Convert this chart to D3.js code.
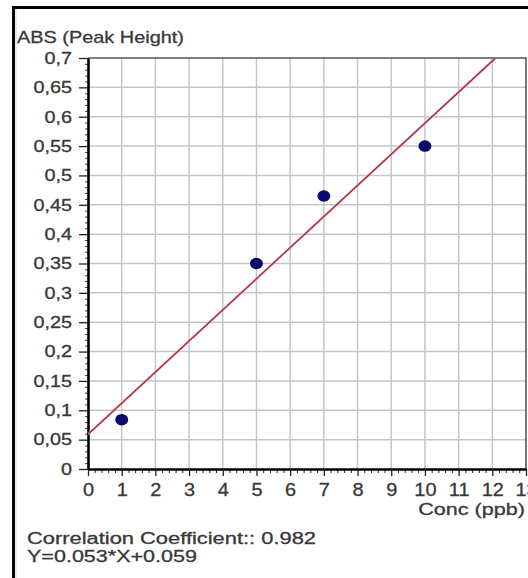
<!DOCTYPE html>
<html>
<head>
<meta charset="utf-8">
<script src="https://cdn.jsdelivr.net/npm/d3@7"></script>
<style>
  html, body { margin: 0; padding: 0; background: #fff; }
  svg { display: block; }
  text { font-family: "Liberation Sans", Arial, sans-serif; fill: #383838; stroke: #383838; stroke-width: 0.3; }
</style>
</head>
<body>
<svg id="chart" width="528" height="578"></svg>
<script>
// Calibration standards: concentration (ppb) and measured absorbance (peak height)
const concentrations = [1, 5, 7, 10];
const absorbances = [0.084, 0.35, 0.465, 0.55];

// Linear fit reported by the instrument
const slope = 0.053;
const intercept = 0.059;
const correlation = 0.982;

// Axis ticks
const xTicks = [0, 1, 2, 3, 4, 5, 6, 7, 8, 9, 10, 11, 12, 13];
const yTicks = [0, 0.05, 0.1, 0.15, 0.2, 0.25, 0.3, 0.35, 0.4, 0.45, 0.5, 0.55, 0.6, 0.65, 0.7];

const yTitle = "ABS (Peak Height)";
const xTitle = "Conc (ppb)";

const svg = d3.select("#chart");
const plotL = 88, plotR = 526, plotT = 58, plotB = 469;

const x = d3.scaleLinear().domain([0, 13]).range([plotL, plotR]);
const y = d3.scaleLinear().domain([0, 0.7]).range([plotB, plotT]);

const locale = d3.formatLocale({ decimal: ",", thousands: ".", grouping: [3], currency: ["", ""] });
const yFmt = locale.format(".2~f");

// Outer frame
svg.append("rect").attr("x", 0).attr("y", 0).attr("width", 528).attr("height", 578).attr("fill", "#fff");
svg.append("rect").attr("x", 13.5).attr("y", 7.5).attr("width", 600).attr("height", 600)
  .attr("fill", "none").attr("stroke", "#000").attr("stroke-width", 3);
svg.append("line").attr("x1", 16).attr("x2", 16).attr("y1", 9).attr("y2", 578)
  .attr("stroke", "#d8d8d8").attr("stroke-width", 1);

// Grid
const grid = svg.append("g");
grid.selectAll("line.v").data(xTicks.filter(d => d > 0 && d < 13)).join("line")
  .attr("x1", d => x(d)).attr("x2", d => x(d)).attr("y1", plotT).attr("y2", plotB)
  .attr("stroke", "#c6c6c6").attr("stroke-width", 1.5);
grid.selectAll("line.h").data(yTicks.filter(d => d > 0 && d < 0.7)).join("line")
  .attr("x1", plotL).attr("x2", plotR).attr("y1", d => y(d)).attr("y2", d => y(d))
  .attr("stroke", "#c6c6c6").attr("stroke-width", 1.5);

// Plot border (top and right)
svg.append("path").attr("d", `M${plotL},${plotT}H${plotR}V${plotB}`)
  .attr("fill", "none").attr("stroke", "#555").attr("stroke-width", 1.6);

// Minor ticks
const minorX = d3.range(0, 13.001, 0.2).filter(v => Math.abs(v - Math.round(v)) > 1e-6);
svg.append("g").attr("transform", `translate(0,${plotB})`)
  .call(d3.axisBottom(x).tickValues(minorX).tickSize(4).tickFormat(""))
  .call(g => g.select(".domain").remove())
  .selectAll("line").attr("stroke", "#222");
const minorY = d3.range(0, 0.7001, 0.01).filter(v => Math.abs(v * 20 - Math.round(v * 20)) > 1e-6);
svg.append("g").attr("transform", `translate(${plotL},0)`)
  .call(d3.axisLeft(y).tickValues(minorY).tickSize(3).tickFormat(""))
  .call(g => g.select(".domain").remove())
  .selectAll("line").attr("stroke", "#444");

// Major axes
const xAxis = svg.append("g").attr("transform", `translate(0,${plotB})`)
  .call(d3.axisBottom(x).tickValues(xTicks).tickSize(7).tickSizeOuter(0).tickPadding(7).tickFormat(d3.format("d")));
const yAxis = svg.append("g").attr("transform", `translate(${plotL},0)`)
  .call(d3.axisLeft(y).tickValues(yTicks).tickSize(9).tickSizeOuter(0).tickPadding(6).tickFormat(yFmt));

[xAxis, yAxis].forEach(a => {
  a.select(".domain").attr("stroke", "#000").attr("stroke-width", 2.6);
  a.selectAll(".tick line").attr("stroke", "#222").attr("stroke-width", 1.3);
  a.selectAll(".tick text").attr("fill", "#383838")
    .attr("font-family", "'Liberation Sans', Arial, sans-serif");
});
const xStretch = 1.08, yStretch = 1.2;
xAxis.selectAll(".tick text").attr("font-size", 18.5)
  .attr("transform", `scale(${xStretch},1)`)
  .attr("x", 0).attr("dy", "0.71em");
yAxis.selectAll(".tick text").attr("font-size", 16.5)
  .attr("transform", `scale(${yStretch},1)`)
  .attr("x", -16 / yStretch);

// Regression line, clipped to the plot area
svg.append("clipPath").attr("id", "plotclip").append("rect")
  .attr("x", plotL).attr("y", plotT).attr("width", plotR - plotL).attr("height", plotB - plotT);
const xEnd = (0.7 - intercept) / slope;
const fit = [[0, intercept], [xEnd, slope * xEnd + intercept]];
["#eaa6ae", "#9a2030"].forEach((c, i) => {
  svg.append("line")
    .attr("clip-path", "url(#plotclip)")
    .attr("x1", x(fit[0][0])).attr("y1", y(fit[0][1]))
    .attr("x2", x(fit[1][0])).attr("y2", y(fit[1][1]))
    .attr("stroke", c).attr("stroke-width", i ? 1.1 : 2.4);
});

// Calibration points
svg.append("g").selectAll("ellipse")
  .data(concentrations.map((c, i) => [c, absorbances[i]]))
  .join("ellipse")
  .attr("cx", d => x(d[0])).attr("cy", d => y(d[1]))
  .attr("rx", 6.5).attr("ry", 5.8)
  .attr("fill", "#0a0a6a");

// Titles
svg.append("text").attr("x", 17).attr("y", 43).attr("font-size", 17)
  .attr("textLength", 167).attr("lengthAdjust", "spacingAndGlyphs")
  .text(yTitle);
svg.append("text").attr("x", 525).attr("y", 515).attr("font-size", 17)
  .attr("text-anchor", "end")
  .attr("transform", "translate(525,0) scale(1.27,1) translate(-525,0)")
  .text(xTitle);

// Fit statistics
svg.append("text").attr("x", 27).attr("y", 544).attr("font-size", 16)
  .attr("textLength", 289).attr("lengthAdjust", "spacingAndGlyphs")
  .text(`Correlation Coefficient:: ${correlation.toFixed(3)}`);
svg.append("text").attr("x", 27).attr("y", 562).attr("font-size", 16)
  .attr("textLength", 170).attr("lengthAdjust", "spacingAndGlyphs")
  .text(`Y=${slope}*X+${intercept}`);
</script>
</body>
</html>
